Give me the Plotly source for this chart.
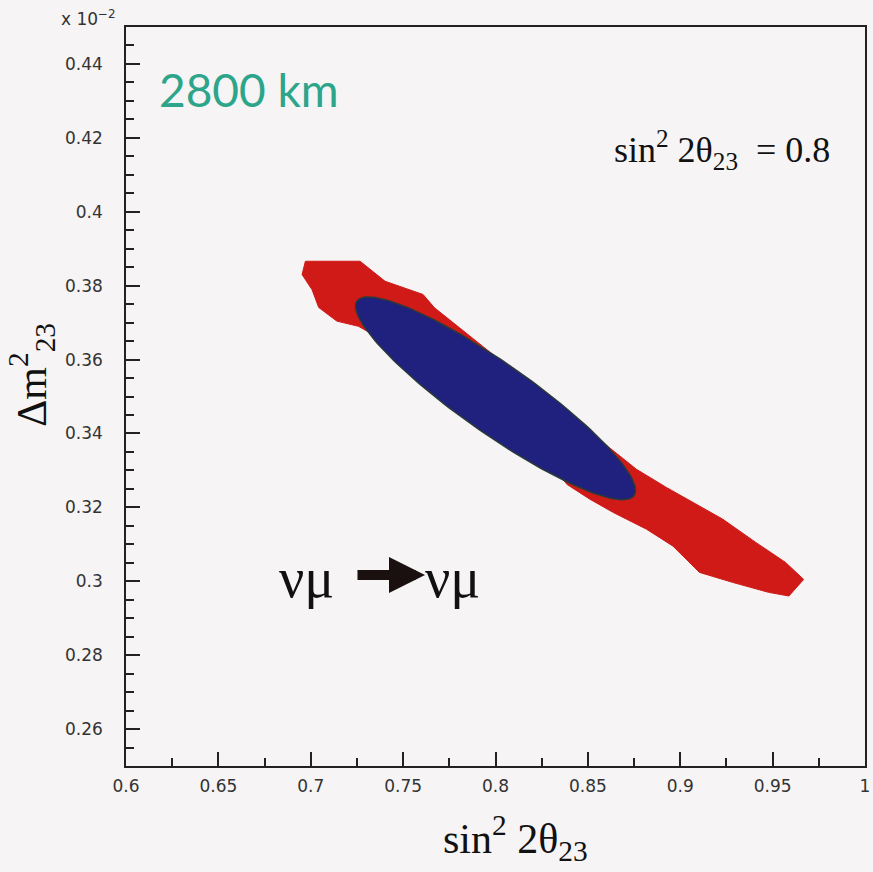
import numpy as np
import plotly.graph_objects as go

# ---- data ----
# red contour (sin^2 2theta23, dm^2_23 in units of 1e-2 eV^2)
red_x = [0.6971, 0.7267, 0.7402, 0.7509, 0.7608, 0.7670, 0.8145, 0.8565, 0.8763,
         0.8925, 0.9068, 0.9230, 0.9409, 0.9570, 0.9668, 0.9588, 0.9478, 0.9283,
         0.9104, 0.9032, 0.8961, 0.8817, 0.8638, 0.8511, 0.8387, 0.8059, 0.7258,
         0.7141, 0.7043, 0.7007, 0.6953]
red_y = [0.3866, 0.3866, 0.3812, 0.3794, 0.3776, 0.3740, 0.3551, 0.3384, 0.3303,
         0.3254, 0.3213, 0.3168, 0.3105, 0.3051, 0.3005, 0.2960, 0.2970, 0.2997,
         0.3024, 0.3059, 0.3095, 0.3141, 0.3186, 0.3222, 0.3262, 0.3465, 0.3690,
         0.3704, 0.3741, 0.3789, 0.3830]

# blue ellipse fitted to the picture: centre and the two half-axis vectors
ell_center = [0.800, 0.3495]
ell_axis_a = [0.0750, -0.0263]
ell_axis_b = [0.0108, 0.0078]

x_ticks = [0.6, 0.65, 0.7, 0.75, 0.8, 0.85, 0.9, 0.95, 1.0]
x_ticktext = ["0.6", "0.65", "0.7", "0.75", "0.8", "0.85", "0.9", "0.95", "1"]
y_ticks = [0.26, 0.28, 0.30, 0.32, 0.34, 0.36, 0.38, 0.40, 0.42, 0.44]
y_ticktext = ["0.26", "0.28", "0.3", "0.32", "0.34", "0.36", "0.38", "0.4", "0.42", "0.44"]

t = np.linspace(0, 2 * np.pi, 200)
ell_x = ell_center[0] + np.cos(t) * ell_axis_a[0] + np.sin(t) * ell_axis_b[0]
ell_y = ell_center[1] + np.cos(t) * ell_axis_a[1] + np.sin(t) * ell_axis_b[1]

BG = "#f6f4f4"
fig = go.Figure()
fig.add_trace(go.Scatter(x=red_x + [red_x[0]], y=red_y + [red_y[0]], mode="lines",
                         fill="toself", fillcolor="#cf1a18",
                         line=dict(color="#cf1a18", width=1), hoverinfo="skip",
                         showlegend=False))
fig.add_trace(go.Scatter(x=ell_x, y=ell_y, mode="lines", fill="toself",
                         fillcolor="#20207e", line=dict(color="#2a3a3a", width=1.5),
                         hoverinfo="skip", showlegend=False))

tickfont = dict(family="DejaVu Sans, sans-serif", size=17, color="#333333")
fig.update_layout(
    width=873, height=872,
    margin=dict(l=126, r=3, t=27, b=106),
    paper_bgcolor=BG, plot_bgcolor=BG,
    xaxis=dict(range=[0.6, 1.0], tickmode="array", tickvals=x_ticks, ticktext=x_ticktext,
               ticks="inside", ticklen=14, tickwidth=1.5, tickcolor="#222",
               showline=True, linecolor="#222", linewidth=1.5, mirror=True,
               showgrid=False, zeroline=False, tickfont=tickfont, ticklabelstandoff=4,
               ticklabeloverflow="allow",
               minor=dict(tickmode="linear", tick0=0.6, dtick=0.025, ticks="inside",
                          ticklen=8, tickwidth=1.5, tickcolor="#222")),
    yaxis=dict(range=[0.25, 0.45], tickmode="array", tickvals=y_ticks, ticktext=y_ticktext,
               ticks="inside", ticklen=14, tickwidth=1.5, tickcolor="#222",
               showline=True, linecolor="#222", linewidth=1.5, mirror=True,
               showgrid=False, zeroline=False, tickfont=tickfont, ticklabelstandoff=18,
               minor=dict(tickmode="linear", tick0=0.25, dtick=0.005, ticks="inside",
                          ticklen=8, tickwidth=1.5, tickcolor="#222")),
)

serif = "Liberation Serif, Times New Roman, serif"
ann = [
    dict(text="Δm<sup>2</sup><sub>23</sub>", x=-0.128, y=0.53, textangle=-90,
         font=dict(family=serif, size=42, color="#111")),
    dict(text="sin<sup>2</sup> 2θ<sub>23</sub>", x=0.527, y=-0.097,
         font=dict(family=serif, size=42, color="#111")),
    dict(text="x 10<sup>−2</sup>", x=-0.051, y=1.012,
         font=dict(family="DejaVu Sans, sans-serif", size=17, color="#333")),
    dict(text="sin<sup>2</sup> 2θ<sub>23</sub>  = 0.8", x=0.806, y=0.833,
         font=dict(family=serif, size=36, color="#111")),
    dict(text="νμ", x=(308 - 126) / 744, y=0.254,
         font=dict(family=serif, size=56, color="#111")),
    dict(text="νμ", x=(455 - 126) / 744, y=0.254,
         font=dict(family=serif, size=56, color="#111")),
    dict(text="2800 km", x=0.167, y=0.915,
         font=dict(family="Lato, sans-serif", size=46, color="#2ca58a")),
]
for a in ann:
    fig.add_annotation(xref="paper", yref="paper", showarrow=False,
                       xanchor="center", yanchor="middle", **a)

# thick arrow between the two neutrino labels
fig.add_annotation(xref="paper", yref="paper", axref="pixel", ayref="pixel",
                   x=(427 - 126) / 744, y=(766 - 575) / 739, ax=-69, ay=0,
                   showarrow=True, text="", arrowhead=2, arrowsize=0.72,
                   arrowwidth=10, arrowcolor="#1a1010", standoff=0, startstandoff=0)

fig.write_html("out.html", config={"displayModeBar": False},
               post_script="document.body.style.margin='0';document.body.style.padding='0';")
